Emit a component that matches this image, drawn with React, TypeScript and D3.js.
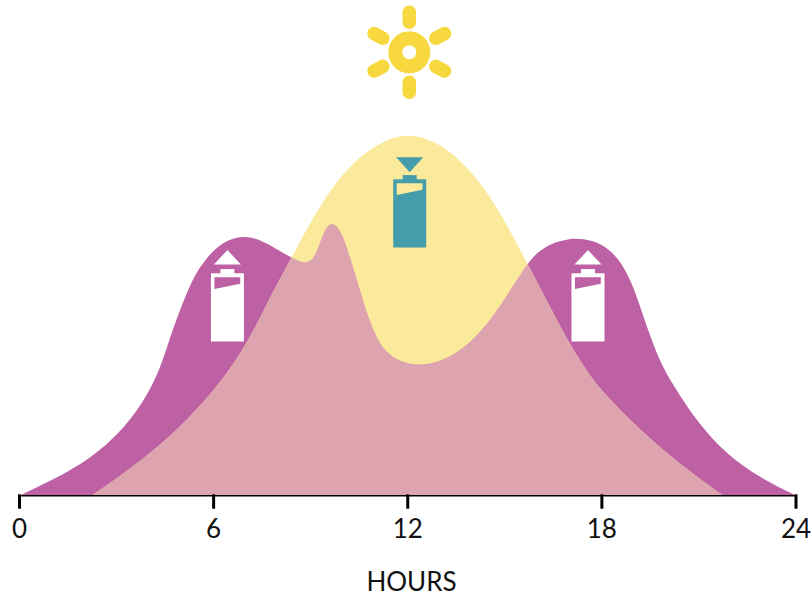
import React from "react";
import * as d3 from "d3";

const tickHours = [0, 6, 12, 18, 24];
const purplePx = [19.5,53,90,120,143,160,170,180,193,207,223,245,263,280,292,305,315,323,332,342,350,360,370,383,402,425,452,477,500,527,543,575,603,622,635,647,660,673,697,727,760,796];
const purplePy = [495.5,480,459,433,403,370,337,310,277,257,241,235,241,251,258,264,259,232,220,232,257,290,323,351,363,366,357,337,307,263,246,236,243,262,290,328,362,385,422,455,478,495.5];
const yellowPx = [92,143,187,223,250,270,292,313,337,363,390,410,435,459,482,502,527,550,570,586,603,643,683,723];
const yellowPy = [495.5,460,421,380,339,297,257,217,180,153,138,134,141,158,185,215,263,307,345,370,393,433,467,495.5];

const x = d3.scaleLinear().domain([0, 24]).range([19.5, 796]);
const y = d3.scaleLinear().domain([0, 360]).range([495.5, 135.5]);
const toHours = (p: number) => x.invert(p);
const toVal = (p: number) => y.invert(p);
const area = (hs: number[], vs: number[]) =>
  d3.area<number>().x((d) => x(d)).y0(y(0)).y1((_, i) => y(vs[i])).curve(d3.curveBasis)(hs) as string;

function Battery({ cx, top, gap, color, hole, down }: { cx: number; top: number; gap: number; color: string; hole: string; down?: boolean }) {
  const l = cx - 16.5, t = top + gap;
  const tri = down
    ? `M${cx - 13.5} ${top}H${cx + 13.5}L${cx} ${top + 15}Z`
    : `M${cx - 13.5} ${top + 14.5}H${cx + 13.5}L${cx} ${top}Z`;
  return (
    <g>
      <path d={tri} fill={color} />
      <rect x={cx - 7} y={t - 4.2} width={14} height={5} fill={color} />
      <rect x={l} y={t} width={33} height={68.2} fill={color} />
      <path d={`M${l + 3.5} ${t + 4}H${l + 29.3}V${t + 10.5}L${l + 3.5} ${t + 15.7}Z`} fill={hole} />
    </g>
  );
}

export default function App() {
  const purple = area(purplePx.map(toHours), purplePy.map(toVal));
  const yellow = area(yellowPx.map(toHours), yellowPy.map(toVal));
  const sun = { x: 409.3, y: 52.3 };
  return (
    <svg width={811} height={597} style={{ position: "absolute", left: 0, top: 0, fontFamily: "Lato, sans-serif" }}>
      <defs>
        <clipPath id="yc"><path d={yellow} /></clipPath>
      </defs>
      <path d={purple} fill="#bd61a4" />
      <path d={yellow} fill="#fbea9b" />
      <path d={purple} fill="#dda4b0" clipPath="url(#yc)" />
      <line x1={x(0)} x2={x(24)} y1={495.7} y2={495.7} stroke="#000" strokeWidth={1.6} />
      {tickHours.map((h) => (
        <g key={h}>
          <line x1={x(h)} x2={x(h)} y1={494.3} y2={508.7} stroke="#000" strokeWidth={3} />
          <text x={x(h)} y={538} textAnchor="middle" fontSize={26} fill="#111">{h}</text>
        </g>
      ))}
      <text x={411.5} y={591} textAnchor="middle" fontSize={26} fill="#111">HOURS</text>
      <circle cx={sun.x} cy={sun.y} r={14} fill="none" stroke="#f7d83f" strokeWidth={14} />
      {[0, 62, 118, 180, 242, 298].map((a) => (
        <rect key={a} x={sun.x - 6.8} y={sun.y - 46.7} width={13.6} height={23.5} rx={6.8} fill="#f7d83f" transform={`rotate(${a} ${sun.x} ${sun.y})`} />
      ))}
      <Battery cx={227.4} top={250} gap={23.3} color="#fff" hole="#bd61a4" />
      <Battery cx={588} top={250} gap={23.3} color="#fff" hole="#bd61a4" />
      <Battery cx={409.7} top={157.3} gap={22} color="#459caa" hole="#fbea9b" down />
    </svg>
  );
}
